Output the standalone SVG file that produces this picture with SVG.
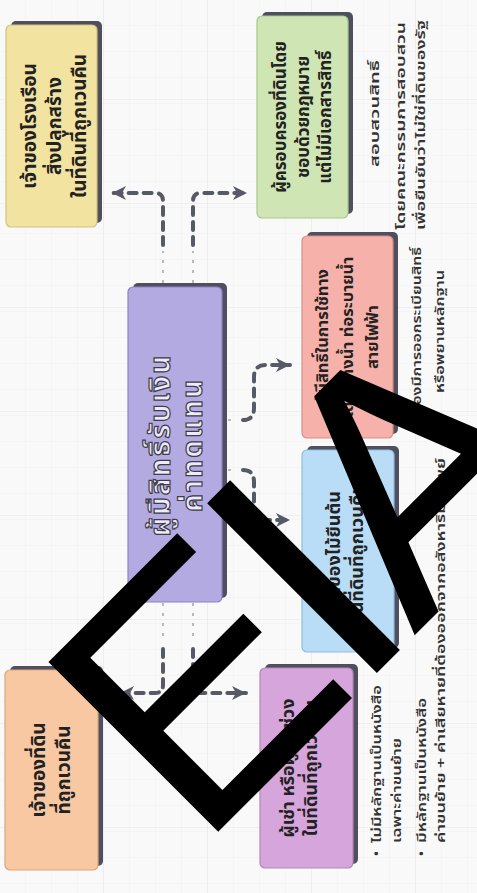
<svg xmlns="http://www.w3.org/2000/svg" width="477" height="893" viewBox="0 0 477 893">
<style>
.sh{fill:#4f4f5e}
.bx{stroke-width:1.2}
.t{font-family:'Noto Sans Thai','Noto Sans Thai UI','Noto Sans','DejaVu Sans',sans-serif;font-weight:700;font-size:18px;fill:#222;text-anchor:middle;dominant-baseline:central}
.big{font-size:28px;letter-spacing:2px;fill:#eeeaf9;stroke:#3d3d48;stroke-width:1.2}
.n{font-family:'Noto Sans Thai','Noto Sans Thai UI','Noto Sans','DejaVu Sans',sans-serif;font-weight:600;font-size:13px;fill:#333;dominant-baseline:central}
.dash{fill:none;stroke:#555a66;stroke-width:4;stroke-dasharray:8 7;stroke-linecap:round;stroke-linejoin:round}
.faint{fill:none;stroke:#a8a8b2;stroke-width:1.6;stroke-dasharray:3 7}
</style>
<defs>
<marker id="ah" markerUnits="userSpaceOnUse" markerWidth="18" markerHeight="18" refX="14" refY="8" orient="auto">
<path d="M0,1 L14,8 L0,15 L4,8 Z" fill="#555a66"/>
</marker>
<pattern id="minor" width="26" height="26" patternUnits="userSpaceOnUse">
<path d="M26,0 V26 M0,26 H26" fill="none" stroke="#f0f0f0" stroke-width="1"/>
</pattern>
<pattern id="major" x="103" y="99" width="104" height="104" patternUnits="userSpaceOnUse">
<path d="M0,0 V104 M0,0 H104" fill="none" stroke="#e6e6e6" stroke-width="1"/>
</pattern>
</defs>
<rect width="477" height="893" fill="#f9f9f9"/>
<rect width="477" height="893" fill="url(#minor)"/>
<rect width="477" height="893" fill="url(#major)"/>
<g transform="translate(0,893) rotate(-90)">
<g id="connectors">
<path class="faint" d="M610,163 H642 M610,193 H642"/>
<path class="dash" d="M648,163 H692 Q700,163 700,155 V112" marker-end="url(#ah)"/>
<path class="dash" d="M648,193 H692 Q700,193 700,201 V247" marker-end="url(#ah)"/>
<path class="faint" d="M290,163 H252 M290,193 H252"/>
<path class="dash" d="M244,163 H208 Q200,163 200,155 V120" marker-end="url(#ah)"/>
<path class="dash" d="M244,193 H208 Q200,193 200,201 V246" marker-end="url(#ah)"/>
<path class="faint" d="M473,228 V238 M423,228 V238"/>
<path class="dash" d="M473,243 Q473,254 485,254 H516 Q528,254 528,266 V290" marker-end="url(#ah)"/>
<path class="dash" d="M423,243 Q423,254 411,254 H385 Q373,254 373,266 V290" marker-end="url(#ah)"/>
</g>
<g id="node-owner-land">
<rect class="sh" x="27" y="10" width="200" height="93" rx="5"/>
<rect class="bx" x="23" y="5" width="200" height="93" rx="5" fill="#f8c8a2" stroke="#d9a77f"/>
<text class="t" x="123" y="39" style="font-size:19px">เจ้าของที่ดิน</text>
<text class="t" x="123" y="64" style="font-size:19px">ที่ถูกเวนคืน</text>
</g>
<g id="node-center">
<rect class="sh" x="295" y="133" width="315" height="94" rx="5"/>
<rect class="bx" x="291" y="128" width="315" height="94" rx="5" fill="#b4aae2" stroke="#8d82c6"/>
<text class="t big" x="448" y="161">ผู้มีสิทธิ์รับเงิน</text>
<text class="t big" x="448" y="193">ค่าทดแทน</text>
</g>
<g id="node-owner-building">
<rect class="sh" x="670" y="11" width="202" height="91" rx="5"/>
<rect class="bx" x="666" y="6" width="202" height="91" rx="5" fill="#f3e3a0" stroke="#d3c27c"/>
<text class="t" x="767" y="30" style="font-size:19px">เจ้าของโรงเรือน</text>
<text class="t" x="767" y="55" style="font-size:19px">สิ่งปลูกสร้าง</text>
<text class="t" x="767" y="80" style="font-size:19px">ในที่ดินที่ถูกเวนคืน</text>
</g>
<g id="node-tenant">
<rect class="sh" x="29" y="265" width="200" height="93" rx="5"/>
<rect class="bx" x="25" y="260" width="200" height="93" rx="5" fill="#d6a5dc" stroke="#b785be"/>
<text class="t" x="125" y="288">ผู้เช่า หรือผู้เช่าช่วง</text>
<text class="t" x="125" y="311">ในที่ดินที่ถูกเวนคืน</text>
</g>
<g id="node-tree-owner">
<rect class="sh" x="245" y="307" width="202" height="92" rx="5"/>
<rect class="bx" x="241" y="302" width="202" height="92" rx="5" fill="#b9ddf6" stroke="#8fbddf"/>
<text class="t" x="342" y="334">เจ้าของไม้ยืนต้น</text>
<text class="t" x="342" y="357">ในที่ดินที่ถูกเวนคืน</text>
</g>
<g id="node-easement">
<rect class="sh" x="459" y="307" width="202" height="91" rx="5"/>
<rect class="bx" x="455" y="302" width="202" height="91" rx="5" fill="#f6b1aa" stroke="#d88f88"/>
<text class="t" x="556" y="322" style="font-size:16.5px">ผู้มีสิทธิ์ในการใช้ทาง</text>
<text class="t" x="556" y="347" style="font-size:16.5px">เดิน ทางน้ำ ท่อระบายน้ำ</text>
<text class="t" x="556" y="372" style="font-size:16.5px">สายไฟฟ้า</text>
</g>
<g id="node-possessor">
<rect class="sh" x="679" y="262" width="202" height="91" rx="5"/>
<rect class="bx" x="675" y="257" width="202" height="91" rx="5" fill="#cfe6b4" stroke="#a9c88c"/>
<text class="t" x="776" y="281" style="font-size:17px">ผู้ครอบครองที่ดินโดย</text>
<text class="t" x="776" y="304" style="font-size:17px">ชอบด้วยกฎหมาย</text>
<text class="t" x="776" y="326" style="font-size:17px">แต่ไม่มีเอกสารสิทธิ์</text>
</g>
<g id="notes">
<text class="n" x="726" y="375" textLength="107" lengthAdjust="spacingAndGlyphs">สอบสวนสิทธิ์</text>
<text class="n" x="663" y="401" textLength="208" lengthAdjust="spacingAndGlyphs">โดยคณะกรรมการสอบสวน</text>
<text class="n" x="663" y="421" textLength="210" lengthAdjust="spacingAndGlyphs">เพื่อยืนยันว่าไม่ใช่ที่ดินของรัฐ</text>
<text class="n" x="478" y="417" textLength="168" lengthAdjust="spacingAndGlyphs">ต้องมีการออกระเบียนสิทธิ์</text>
<text class="n" x="500" y="440" textLength="123" lengthAdjust="spacingAndGlyphs">หรือพยานหลักฐาน</text>
<text class="n" x="37" y="377">•</text>
<text class="n" x="50" y="377" textLength="158" lengthAdjust="spacingAndGlyphs">ไม่มีหลักฐานเป็นหนังสือ</text>
<text class="n" x="50" y="397" textLength="105" lengthAdjust="spacingAndGlyphs">เฉพาะค่าขนย้าย</text>
<text class="n" x="37" y="422">•</text>
<text class="n" x="50" y="422" textLength="145" lengthAdjust="spacingAndGlyphs">มีหลักฐานเป็นหนังสือ</text>
<text class="n" x="50" y="441" textLength="385" lengthAdjust="spacingAndGlyphs">ค่าขนย้าย + ค่าเสียหายที่ต้องออกจากอสังหาริมทรัพย์</text>
</g>
</g>
<g id="watermark">
<text transform="translate(198,852) rotate(-45)" font-family="'Liberation Sans',Arial,sans-serif" font-size="349" letter-spacing="-12" fill="#000">EIA</text>
</g>
</svg>
